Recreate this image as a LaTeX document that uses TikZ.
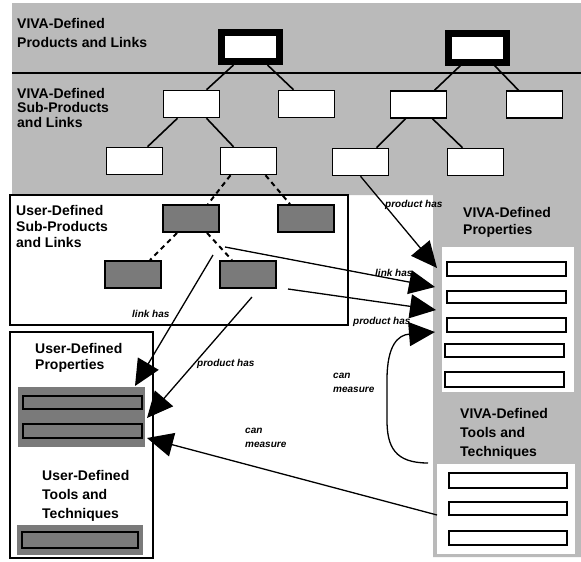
\documentclass[tikz,border=0pt]{standalone}
\usepackage{fontspec}
\setmainfont{Liberation Sans}
\usetikzlibrary{arrows.meta,calc}

\begin{document}
\begin{tikzpicture}[x=1pt,y=-1pt,
  stipple/.style={fill=black!27},
  hatch/.style={fill=black!52},
  title/.style={anchor=north west,inner sep=0,align=left,font=\bfseries\fontsize{14}{19}\selectfont},
  lbl/.style={anchor=base west,inner sep=0,align=left,font=\bfseries\itshape\fontsize{10}{14}\selectfont},
  topbox/.style={draw,line width=7pt,fill=white,minimum width=58pt,minimum height=29pt,inner sep=0},
  subbox/.style={draw,line width=1.5pt,fill=white,minimum width=56pt,minimum height=27pt,inner sep=0},
  userbox/.style={draw,line width=1.8pt,hatch,minimum width=56pt,minimum height=27pt,inner sep=0},
  bar/.style={draw,line width=1.3pt,fill=white,minimum width=119pt,inner sep=0},
  ubar/.style={draw,line width=1.5pt,hatch,inner sep=0},
  panel/.style={inner sep=0,outer sep=0},
  tree/.style={line width=1.6pt},
  dashlink/.style={line width=2pt,dash pattern=on 5pt off 4pt},
  rel/.style={line width=1.3pt,-{Triangle[length=26pt,width=24pt]}},
]
\useasboundingbox (0,0) rectangle (581,562);

% shaded VIVA area: top band and right column
\fill[stipple] (12,3) -- (581,3) -- (581,557) -- (433,557) -- (433,195) -- (12,195) -- cycle;
\draw[line width=1.5pt] (12,73) -- (581,73);

% VIVA property and tool panels
\node[panel,fill=white,minimum width=132pt,minimum height=145pt] (vprop) at (508,319.5) {};
\node[panel,fill=white,minimum width=138pt,minimum height=90pt] (vtool) at (506,509) {};

\node[bar,minimum height=14pt] (p1) at (506.5,269) {};
\node[bar,minimum height=12pt] (p2) at (506.5,297) {};
\node[bar,minimum height=14pt] (p3) at (506.5,325) {};
\node[bar,minimum height=13pt] (p4) at (504.5,350.5) {};
\node[bar,minimum height=15pt] (p5) at (504.5,379.5) {};

\node[bar,minimum width=118pt,minimum height=15pt] (q1) at (508,480.5) {};
\node[bar,minimum width=118pt,minimum height=13pt] (q2) at (508,508.5) {};
\node[bar,minimum width=118pt,minimum height=14pt] (q3) at (508,538) {};

% user-defined containers
\draw[line width=1.5pt,fill=white] (10,195) rectangle (348,325);
\draw[line width=1.5pt,fill=white] (10,332) rectangle (153,558);

\node[panel,hatch,minimum width=127pt,minimum height=60pt] (uprop) at (81.5,417) {};
\node[ubar,minimum width=119pt,minimum height=13pt] (ub1) at (82.5,402.5) {};
\node[ubar,minimum width=119pt,minimum height=14pt] (ub2) at (82.5,431) {};
\node[panel,hatch,minimum width=126pt,minimum height=30pt] (utool) at (80,540) {};
\node[ubar,minimum width=116pt,minimum height=16pt] (utbar) at (80,540) {};

% products and sub-products
\node[topbox] (P1) at (250.5,47) {};
\node[topbox] (P2) at (477.5,47.5) {};

\node[subbox] (s1) at (191.5,104) {};
\node[subbox] (s2) at (306.5,104) {};
\node[subbox] (s3) at (418.5,104.5) {};
\node[subbox] (s4) at (534.5,104.5) {};

\node[subbox] (t1) at (134.5,161) {};
\node[subbox] (t2) at (248.5,161) {};
\node[subbox] (t3) at (360.5,162) {};
\node[subbox] (t4) at (475.5,162) {};

\node[userbox] (uA) at (191,218.5) {};
\node[userbox] (uB) at (306,218.5) {};
\node[userbox] (uC) at (133,274.5) {};
\node[userbox] (uD) at (248,274.5) {};

% tree links
\draw[tree] ([xshift=-17pt]P1.south) -- ([xshift=15pt]s1.north);
\draw[tree] ([xshift=17pt]P1.south) -- ([xshift=-13pt]s2.north);
\draw[tree] ([xshift=-14pt]s1.south) -- ([xshift=13pt]t1.north);
\draw[tree] ([xshift=15pt]s1.south) -- ([xshift=-15pt]t2.north);
\draw[tree] ([xshift=-17pt]P2.south) -- ([xshift=16pt]s3.north);
\draw[tree] ([xshift=17pt]P2.south) -- ([xshift=-16pt]s4.north);
\draw[tree] ([xshift=-13pt]s3.south) -- ([xshift=16pt]t3.north);
\draw[tree] ([xshift=14pt]s3.south) -- ([xshift=-13pt]t4.north);

% user-defined links
\draw[dashlink] ([xshift=-18pt]t2.south) -- ([xshift=17pt]uA.north);
\draw[dashlink] ([xshift=17pt]t2.south) -- ([xshift=-16pt]uB.north);
\draw[dashlink] ([xshift=-14pt]uA.south) -- ([xshift=17pt]uC.north);
\draw[dashlink] ([xshift=16pt]uA.south) -- ([xshift=-16pt]uD.north);

% relation ends
\coordinate (lkA) at (225,247);
\coordinate (lkB) at (213,255);
\coordinate (pdA) at (288,289);
\coordinate (pdB) at (252,297);
\coordinate (msA) at (428,463);
\coordinate (h1) at (437,268);
\coordinate (h2) at (435,287);
\coordinate (h3) at (436,310);
\coordinate (h4) at (435,332);
\coordinate (h5) at (135,386);
\coordinate (h6) at (147,418);
\coordinate (h7) at (147,438);

\draw[rel] (t3.south) -- (h1);
\draw[rel] (lkA) -- (h2);
\draw[rel] (pdA) -- (h3);
\draw[rel] (msA) .. controls (395,463) and (387,447) .. (387,420)
  -- (387,380) .. controls (387,345) and (398,335) .. (h4);
\draw[rel] (lkB) -- (h5);
\draw[rel] (pdB) -- (h6);
\draw[rel] ([yshift=-6pt]vtool.west) -- (h7);

% titles
\node[title] (tA) at (17,18) {VIVA-Defined\\Products and Links};
\node[title,font=\bfseries\fontsize{14}{14.5}\selectfont] (tB) at (17,88) {VIVA-Defined\\Sub-Products\\and Links};
\node[title,font=\bfseries\fontsize{14}{16}\selectfont] (tC) at (16,205) {User-Defined\\Sub-Products\\and Links};
\node[title,font=\bfseries\fontsize{14}{16.5}\selectfont] (tD) at (35,343) {User-Defined\\Properties};
\node[title] (tE) at (42,470) {User-Defined\\Tools and\\Techniques};
\node[title,font=\bfseries\fontsize{14}{17}\selectfont] (tF) at (463,207) {VIVA-Defined\\Properties};
\node[title] (tG) at (460,408) {VIVA-Defined\\Tools and\\Techniques};

% relation labels
\node[lbl] (l1) at (385,207) {product has};
\node[lbl] (l2) at (375,276) {link has};
\node[lbl] (l3) at (353,324) {product has};
\node[lbl] (l4) at (132,317) {link has};
\node[lbl] (l5) at (197,366) {product has};
\node[lbl] (l6) at (245,447) {can\\measure};
\node[lbl] (l7) at (333,392) {can\\measure};
\end{tikzpicture}
\end{document}
